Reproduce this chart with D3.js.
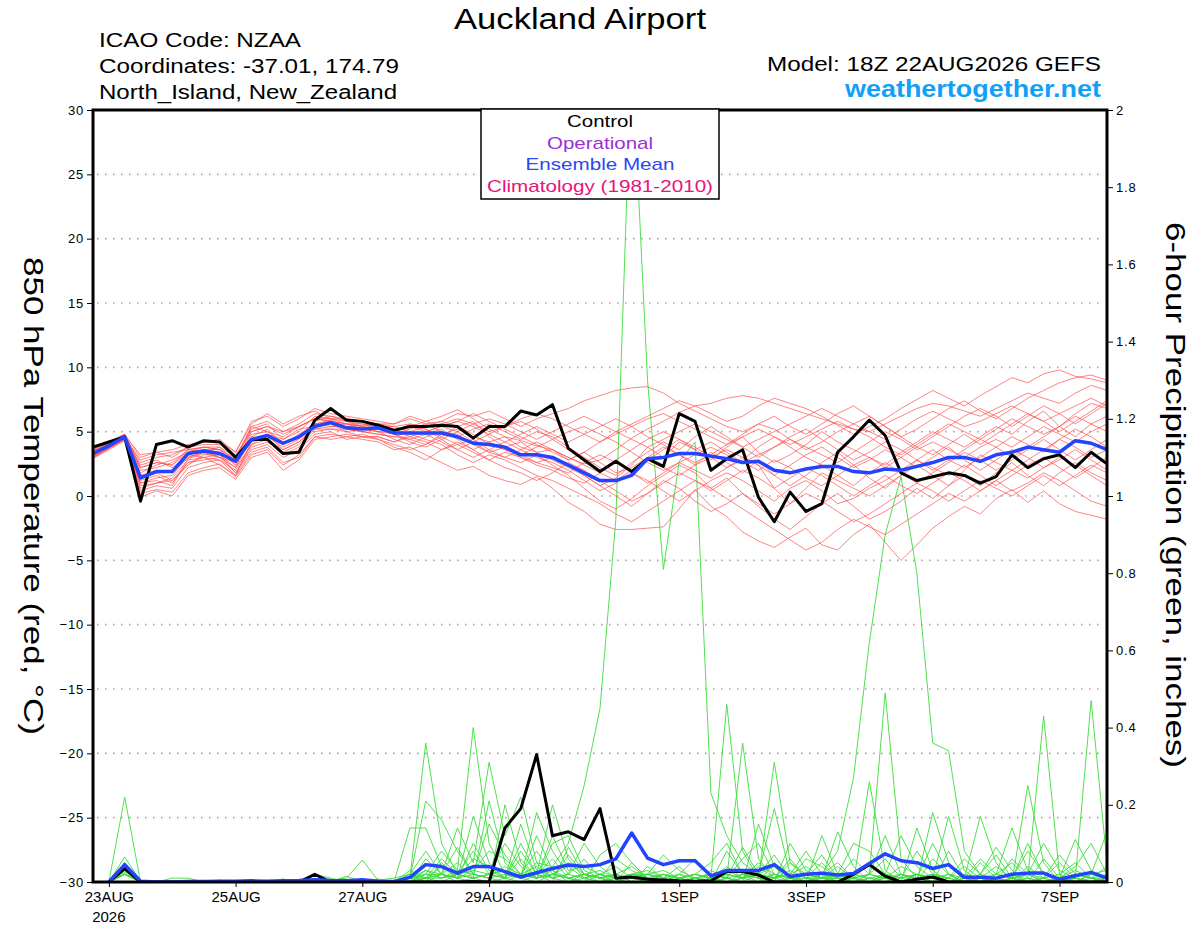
<!DOCTYPE html>
<html><head><meta charset="utf-8">
<script src="https://cdn.jsdelivr.net/npm/d3@7"></script>
<style>
body{margin:0;background:#fff;}
svg{display:block;font-family:"Liberation Sans",Arial,Helvetica,sans-serif;}
</style>
</head><body>
<svg id="chart" width="1200" height="927"></svg>
<script>
// ---------------- DATA ----------------
const stationTitle = "Auckland Airport";
const infoLines = ["ICAO Code: NZAA", "Coordinates: -37.01, 174.79", "North_Island, New_Zealand"];
const modelLine = "Model: 18Z 22AUG2026 GEFS";
const siteName = "weathertogether.net";
const legendItems = ["Control", "Operational", "Ensemble Mean", "Climatology (1981-2010)"];
const runStart = "2026-08-22T18:00:00Z";
const stepHours = 6;
const xTickDates = ["2026-08-23","2026-08-25","2026-08-27","2026-08-29","2026-09-01","2026-09-03","2026-09-05","2026-09-07"];
const xTickLabels = ["23AUG","25AUG","27AUG","29AUG","1SEP","3SEP","5SEP","7SEP"];
const firstTickYear = "2026";
const tempTicks = [-30,-25,-20,-15,-10,-5,0,5,10,15,20,25,30];
const precipTicks = [0,0.2,0.4,0.6,0.8,1,1.2,1.4,1.6,1.8,2];
const precipTickLabels = ["0","0.2","0.4","0.6","0.8","1","1.2","1.4","1.6","1.8","2"];
const leftTitle = "850 hPa Temperature (red, \u00B0C)";
const rightTitle = "6-hour Precipitation (green, inches)";

// 850 hPa temperature, every 6 h from 18Z 22AUG (65 values)
const controlTemp = [3.8,4.2,4.6,-0.4,4.0,4.3,3.8,4.3,4.2,3.0, 4.4,4.4,3.3,3.4,5.9,6.8,5.9,5.8,5.5,5.1, 5.4,5.4,5.5,5.4,4.5,5.4,5.4,6.6,6.3,7.1, 3.7,2.8,1.9,2.7,1.9,2.9,2.3,6.4,5.8,2.0, 2.9,3.6,-0.1,-2.0,0.3,-1.2,-0.6,3.4,4.6,5.9, 4.7,1.8,1.2,1.5,1.8,1.6,1.0,1.5,3.2,2.2, 2.9,3.2,2.2,3.4,2.5];
const meanTemp = [3.3,3.9,4.6,1.4,1.9,1.9,3.3,3.5,3.3,2.7, 4.4,4.7,4.1,4.6,5.4,5.7,5.3,5.2,5.3,4.9, 4.9,4.9,4.9,4.6,4.1,4.0,3.8,3.2,3.2,3.0, 2.4,1.8,1.2,1.2,1.6,2.9,3.0,3.3,3.3,3.1, 2.9,2.6,2.7,2.0,1.8,2.1,2.3,2.3,1.9,1.8, 2.1,2.0,2.3,2.6,3.0,3.0,2.7,3.2,3.4,3.8, 3.6,3.4,4.3,4.1,3.6];
const memberTemps = [
 [3.1,3.8,4.5,1.0,1.2,0.8,2.9,3.3,3.0,2.2, 4.6,5.2,4.0,4.8,5.6,5.9,5.4,5.5,5.6,5.2, 5.4,5.8,6.2,6.7,6.0,5.2,4.6,4.3,3.9,3.6, 3.0,2.5,2.8,3.6,4.5,5.2,5.8,6.5,7.0,6.4, 5.8,6.2,7.0,7.6,7.2,6.8,6.2,5.5,4.8,5.4, 6.0,6.8,7.5,8.2,7.6,7.0,7.8,8.5,9.2,8.8, 9.5,9.8,9.3,9.1,8.8],
 [3.0,3.7,4.4,0.2,0.5,0.3,1.8,2.2,2.5,1.5, 3.2,3.6,2.4,3.2,4.6,4.8,4.6,4.4,4.2,3.6, 3.8,3.2,2.6,2.0,2.3,1.6,1.2,0.9,1.5,0.6, -0.5,-1.2,-2.2,-2.6,-2.6,-2.5,-2.4,-1.0,0.5,-0.8, -1.6,-2.8,-3.5,-4.0,-3.2,-2.5,-3.8,-4.2,-3.0,-2.2, -3.6,-5.0,-3.8,-2.5,-1.6,-0.8,-1.4,-0.2,0.5,-0.5, 0.4,-0.6,-1.2,-1.5,-1.8],
 [3.4,4.0,4.7,2.2,2.6,2.4,3.6,3.8,3.6,2.9, 5.2,5.6,4.4,5.0,6.2,6.0,5.8,5.6,5.4,5.0, 5.6,5.2,4.6,5.4,5.8,4.6,3.8,4.2,3.4,2.8, 2.2,1.6,0.8,1.4,2.4,3.8,3.0,4.2,3.6,2.8, 3.8,4.6,3.4,2.6,3.2,4.0,5.0,4.2,3.6,3.0, 2.4,3.4,4.2,5.0,4.4,3.8,4.6,5.4,4.8,5.8, 6.6,5.4,6.4,7.2,6.8],
 [3.2,3.9,4.6,1.6,2.0,1.8,3.0,3.4,3.8,2.6, 4.2,4.8,3.6,4.2,5.4,5.6,5.0,5.2,5.4,5.4, 5.0,4.8,5.2,4.4,3.6,4.2,4.6,3.8,3.4,3.6, 2.8,3.4,2.6,1.8,2.2,3.0,3.8,3.2,2.4,3.4, 2.6,1.8,2.8,1.6,0.8,1.6,2.6,3.4,2.4,1.4, 0.6,1.6,2.8,3.6,2.8,2.2,3.0,3.8,4.6,4.0, 3.4,4.4,5.2,4.6,3.8],
 [2.9,3.6,4.3,-0.1,0.4,0.0,1.6,2.0,2.2,1.3, 3.0,3.4,2.0,2.8,4.4,4.6,4.8,4.6,4.6,4.2, 4.6,4.2,3.6,4.0,4.4,3.6,3.0,2.6,3.2,2.4, 1.6,0.6,-0.4,-1.0,-0.2,0.8,1.6,2.4,1.8,0.6, 1.4,0.2,-0.8,-1.8,-2.6,-1.6,-0.6,0.2,-0.8,-1.8, -1.2,-0.4,0.6,-0.2,0.8,1.6,0.8,1.8,2.6,1.6, 0.8,1.8,2.6,1.8,1.2],
 [3.6,4.2,4.8,3.0,3.4,3.6,4.0,4.2,4.4,3.4, 5.8,6.2,5.4,6.0,6.8,6.4,6.2,6.0,5.8,5.6, 6.0,5.6,5.8,6.4,6.2,6.6,6.0,5.4,6.0,6.4, 6.8,7.4,7.8,8.2,8.4,8.5,8.0,7.2,6.6,6.0, 5.4,5.0,5.6,5.2,4.4,3.6,4.2,5.0,5.6,6.2, 5.4,4.6,5.2,6.0,6.8,7.4,6.6,6.0,6.8,7.6, 8.2,8.8,9.2,9.4,9.0],
 [3.3,3.9,4.5,0.8,1.0,1.4,2.8,3.0,2.8,2.0, 4.0,4.4,3.2,3.8,5.0,5.2,5.2,5.0,4.8,4.6, 4.4,4.0,4.8,5.2,4.6,4.2,3.6,3.0,2.4,2.0, 1.4,1.0,1.8,2.6,2.0,2.8,3.6,4.4,3.8,3.0, 2.2,2.8,3.8,4.6,3.8,3.0,2.4,1.6,0.8,1.8, 2.6,1.8,1.0,1.8,2.6,3.4,2.8,2.0,2.8,3.6, 4.4,3.6,2.8,3.6,4.4],
 [3.5,4.1,4.7,2.6,3.0,3.2,3.8,4.0,4.0,3.2, 5.0,5.4,4.8,5.4,6.0,5.8,5.6,5.6,5.2,4.8, 5.2,5.6,5.0,4.6,5.2,5.6,5.0,4.4,5.0,4.6, 3.8,3.0,2.2,1.6,2.6,3.4,4.2,3.6,4.6,5.4, 4.6,3.8,3.0,3.8,4.6,5.2,4.4,3.6,2.8,3.4, 4.2,3.6,2.8,2.0,2.8,3.6,4.4,3.8,3.0,3.8, 4.6,5.4,4.6,5.6,6.2],
 [3.0,3.7,4.4,1.2,1.6,1.0,2.6,2.8,3.0,1.8, 3.6,4.0,3.0,3.6,4.8,5.0,4.4,4.6,4.6,4.2, 4.8,4.4,4.0,3.2,2.6,3.2,2.8,2.2,1.6,1.2, 0.6,0.0,-0.6,-1.4,-2.0,-1.2,-0.4,0.4,1.2,0.6, -0.2,-1.0,-1.8,-2.6,-3.4,-4.2,-3.6,-2.6,-1.8,-2.4, -3.0,-2.2,-1.4,-0.6,0.2,-0.4,0.4,1.2,0.4,1.0, 1.8,1.2,0.4,-0.4,-0.8],
 [3.3,4.0,4.6,1.8,2.4,2.8,3.4,3.6,3.4,2.8, 4.8,5.0,4.2,4.6,5.8,6.2,5.8,5.4,5.6,5.2, 4.6,5.0,5.4,5.8,5.4,4.8,4.2,4.8,5.4,4.8, 4.2,4.8,5.4,6.0,5.4,4.6,4.0,3.2,2.6,3.2, 4.0,4.8,5.6,6.2,5.4,4.8,5.6,6.4,7.0,6.2, 5.4,4.6,3.8,4.6,5.4,6.2,6.8,6.2,5.4,6.2, 7.0,6.4,5.6,6.4,7.2],
 [3.1,3.8,4.5,0.4,0.8,0.6,2.2,2.6,2.8,1.6, 3.4,3.8,2.6,3.0,4.6,4.4,4.6,4.8,4.4,3.8, 3.4,2.8,3.6,4.2,3.6,2.8,2.2,1.8,1.2,1.8, 2.6,2.0,1.2,0.4,-0.4,0.2,1.0,1.8,1.2,0.4, 1.2,2.0,1.4,0.6,1.4,2.2,1.6,0.8,0.0,0.8, 1.6,0.8,0.2,1.0,1.8,1.2,0.4,1.2,2.0,1.4, 2.2,3.0,2.4,1.6,0.8],
 [3.4,4.0,4.6,2.4,2.8,2.2,3.2,3.6,3.6,2.4, 4.4,4.6,3.8,4.4,5.6,5.4,5.4,5.2,5.0,5.0, 5.4,5.2,4.4,3.6,4.2,4.8,5.4,5.8,5.2,4.4, 3.6,2.8,2.0,2.8,3.6,4.4,5.0,4.4,3.6,4.2, 3.4,2.6,2.0,2.8,2.2,1.4,0.8,1.6,2.4,3.0, 2.2,3.0,3.8,3.2,4.0,4.8,4.0,4.8,5.6,6.4, 5.8,5.0,5.8,6.6,7.4],
 [3.2,3.8,4.4,1.4,1.8,1.2,2.4,3.2,3.2,2.2, 4.0,4.8,4.4,5.2,5.4,5.6,5.2,5.0,5.2,4.8, 4.2,3.8,4.4,5.0,4.2,3.4,3.8,3.2,2.6,2.2, 1.8,2.6,3.2,2.6,1.8,1.0,1.8,2.6,2.0,1.4, 2.2,3.0,2.4,1.6,2.4,3.2,3.8,3.0,2.2,2.8, 3.6,3.0,2.2,3.0,3.8,2.8,2.0,2.8,3.6,3.0, 2.2,2.8,3.6,2.8,2.0],
 [3.5,4.1,4.8,2.0,2.2,2.6,3.6,3.8,3.8,3.0, 5.4,5.8,5.0,5.6,6.4,6.2,6.0,5.8,5.6,5.4, 5.6,5.4,5.6,6.0,5.6,5.0,5.4,6.0,6.4,6.0, 5.4,4.8,4.2,5.0,5.6,6.2,6.8,7.4,7.0,7.2, 7.6,7.8,7.6,7.2,6.8,6.4,6.0,5.6,5.2,5.0, 5.6,6.2,6.8,7.2,7.0,6.6,6.2,6.8,7.4,8.0, 7.6,7.2,8.0,8.6,8.2],
 [3.0,3.7,4.4,0.6,1.0,1.2,2.6,3.0,3.2,1.8, 3.8,4.2,3.4,4.0,5.2,5.2,5.0,4.6,4.4,4.0, 3.6,4.0,4.6,4.0,3.4,2.8,3.4,3.0,2.6,3.0, 2.4,1.6,0.8,0.0,-0.8,0.2,1.2,0.6,-0.4,-1.2, -0.6,0.2,-0.6,-1.4,-0.6,0.2,-0.4,-1.2,-2.0,-1.4, -0.6,0.2,1.0,0.4,-0.4,0.4,1.2,0.6,0.0,0.8, 1.6,0.8,1.6,2.4,1.8],
 [3.4,4.1,4.7,3.2,3.4,3.0,3.8,4.2,4.2,3.4, 5.6,6.4,5.6,6.2,6.6,6.0,6.0,5.8,5.6,5.6, 6.2,5.8,5.4,5.0,5.6,6.0,5.6,5.0,4.4,5.0, 5.6,6.2,5.6,5.0,4.4,3.8,4.4,5.0,5.6,5.0, 4.4,3.8,4.4,5.0,5.6,6.2,6.8,6.2,5.6,5.0, 4.4,5.2,6.0,6.6,6.0,5.4,5.8,6.4,7.0,6.4, 5.8,6.4,7.0,7.6,7.0],
 [3.2,3.9,4.6,1.0,1.4,1.6,3.0,3.4,3.4,2.4, 4.6,4.4,3.6,4.2,5.2,5.4,5.6,5.4,5.0,4.4, 4.0,4.6,5.0,4.8,4.0,3.4,3.0,3.6,4.2,3.6, 3.0,2.4,1.8,1.2,2.0,2.8,2.2,1.6,2.4,3.0, 3.6,3.0,2.4,0.6,-0.6,0.6,1.8,1.2,0.6,0.0, 0.8,1.6,2.4,1.6,0.8,2.0,3.2,2.6,2.0,2.8, 3.6,4.4,3.8,3.0,3.6],
 [3.3,3.9,4.5,2.8,3.2,3.4,3.6,3.4,3.0,2.6, 5.0,5.4,5.0,5.4,6.0,5.8,5.2,5.0,4.8,4.6, 5.0,5.4,5.8,5.4,4.8,4.0,3.6,3.2,3.8,4.4, 5.0,5.4,4.8,4.2,3.4,2.6,2.0,2.6,3.2,3.8, 3.2,2.6,3.2,3.8,4.4,3.8,3.2,2.6,3.4,4.2, 5.0,4.4,3.6,4.2,3.6,3.0,3.8,4.4,3.8,4.6, 5.4,4.8,4.2,5.0,5.6],
 [3.1,3.8,4.5,1.6,1.8,2.0,3.2,3.0,2.4,1.6, 4.2,4.6,4.0,4.6,5.6,5.8,5.6,5.2,5.0,4.8, 4.4,4.8,4.2,3.6,3.0,3.6,4.2,3.6,3.0,2.6, 2.0,1.2,0.4,1.0,1.8,1.2,0.4,-0.4,0.4,1.2, 1.8,1.2,0.4,-0.4,0.6,1.2,0.4,-0.6,-0.2,0.6, 1.2,2.0,2.8,2.2,1.6,2.4,1.6,0.8,1.6,2.4, 3.0,2.2,1.4,2.2,3.0],
 [3.6,4.2,4.8,2.2,2.6,2.4,3.4,3.8,3.6,2.8, 5.4,5.0,4.6,5.4,6.0,6.0,5.6,5.4,5.2,5.0, 5.4,5.0,5.4,5.8,6.4,5.8,5.2,4.6,4.0,3.4, 2.8,3.4,4.2,4.8,5.4,6.0,6.4,5.8,5.2,4.6, 4.0,4.6,5.2,4.6,4.0,4.6,5.2,5.8,5.2,4.6, 3.8,3.2,4.0,4.8,5.6,5.0,4.4,5.2,6.0,5.4, 4.8,5.4,6.2,5.6,5.0]
];

// 6-hour precipitation (inches); first slot (analysis time) has no value
const controlPrecip = [null,0,0.035,0,0,0,0,0,0,0, 0,0,0,0,0.02,0,0,0,0,0, 0,0,0,0,0.001,0,0.14,0.19,0.33,0.12, 0.13,0.11,0.19,0.01,0.013,0.007,0.005,0.003,0.002,0.003, 0.027,0.027,0.018,0,0,0,0,0,0.02,0.045, 0.015,0,0.007,0.013,0,0,0,0,0,0, 0,0,0,0,0];
const meanPrecip = [null,0,0.045,0.002,0,0,0.001,0.001,0.002,0.002, 0.003,0.002,0.003,0.004,0.006,0.004,0.003,0.006,0.002,0.001, 0.012,0.045,0.04,0.023,0.04,0.04,0.027,0.013,0.024,0.035, 0.044,0.04,0.045,0.06,0.127,0.062,0.045,0.055,0.055,0.016, 0.03,0.03,0.03,0.045,0.014,0.02,0.023,0.018,0.022,0.048, 0.073,0.055,0.05,0.035,0.045,0.012,0.012,0.01,0.02,0.023, 0.023,0.007,0.016,0.025,0.01];
const memberPrecip = [
 [null,0,0.22,0,0,0,0.003,0,0,0, 0,0,0,0,0.004,0,0,0,0,0, 0.02,0,0.05,0.01,0,0,0.01,0.08,0.02,0.2, 0.06,0.01,0,0.02,0,0,0.02,0.01,0,0, 0.01,0,0.02,0.04,0.01,0,0,0.01,0,0, 0.02,0.01,0,0.18,0.05,0,0,0.01,0,0, 0,0.01,0,0,0],
 [null,0,0.065,0.002,0,0,0,0,0,0, 0,0,0,0,0,0.005,0.01,0.057,0.004,0, 0.01,0.21,0.16,0.08,0.02,0.01,0,0.02,0.04,0.01, 0,0.02,0.01,0,0.05,0.01,0,0,0.01,0.02, 0.01,0.36,0.06,0.01,0,0.02,0.01,0.13,0.04,0, 0.01,0,0.02,0.01,0,0,0.01,0.02,0.14,0.03, 0,0,0.01,0,0],
 [null,0,0.05,0,0,0,0,0,0,0, 0,0,0,0.003,0,0,0,0,0,0.004, 0.01,0.36,0.1,0.02,0.01,0.21,0.05,0.01,0,0.02, 0.01,0,0.02,0.04,0.01,0,0,0.01,0,0.01, 0.46,0.08,0.01,0,0.01,0,0.12,0.02,0,0, 0,0.01,0.02,0,0,0.01,0.17,0.05,0,0.01, 0,0,0.01,0.47,0.05],
 [null,0,0.04,0,0,0,0,0,0.002,0, 0,0,0,0,0,0,0,0.005,0,0, 0.14,0.14,0.04,0.01,0.17,0.05,0.01,0,0.02,0, 0.09,0.02,0,0.01,0.02,0.01,0,0,0,0.01, 0,0.02,0.01,0.31,0.05,0.01,0,0,0.01,0, 0.02,0,0.14,0.03,0,0,0,0.01,0,0.01, 0.43,0.02,0,0,0.01],
 [null,0,0.03,0,0,0.01,0.01,0,0,0, 0,0.004,0,0,0,0,0,0,0,0, 0,0.02,0.01,0.03,0.40,0.1,0.02,0.01,0.12,0.03, 0,0.01,0.02,0,0.01,0.02,0.01,0.04,0,0, 0.01,0,0.15,0.04,0,0,0.01,0,0,0.02, 0.49,0.06,0.01,0,0.02,0,0,0,0.01,0, 0,0.01,0.11,0.03,0],
 [null,0,0.035,0,0,0,0,0,0,0, 0.006,0,0,0,0,0,0,0,0,0.003, 0.01,0.03,0.02,0.14,0.05,0.31,0.12,0.22,0.05,0.01, 0.02,0.01,0,0.01,0.02,0.01,0,0.02,0.06,0.01, 0,0.01,0.02,0.19,0.02,0,0.01,0.01,0,0.26, 0.03,0,0.01,0.02,0,0,0.01,0,0,0.25, 0.05,0,0,0.01,0.02],
 [null,0,0.02,0,0,0,0,0,0,0, 0,0,0,0,0.02,0.01,0,0,0,0, 0,0.01,0.06,0.02,0.01,0,0.2,0.05,0.01,0.02, 0.01,0,0.07,0.1,0.05,0.01,0.02,0,0.01,0.02, 0.01,0,0,0.02,0.01,0.06,0.04,0.01,0,0.02, 0.01,0,0.02,0.01,0.17,0.03,0,0.01,0.02,0, 0.01,0,0,0.02,0.13],
 [null,0,0.025,0,0,0,0,0,0,0, 0,0,0,0,0,0,0,0,0.005,0.01, 0.02,0.08,0.02,0.05,0.01,0.02,0.03,0.01,0.18,0.08, 0.02,0.06,0.01,0.02,0,0.04,0.01,0,0.01,0, 0.08,0.02,0.01,0,0.1,0.03,0.01,0,0.01,0, 0,0.02,0.01,0,0.01,0,0.02,0.09,0.03,0, 0.01,0.05,0.01,0,0],
 [null,0,0.03,0,0,0,0,0,0,0, 0,0,0,0,0,0,0.015,0,0,0, 0.01,0.01,0,0.02,0.03,0.08,0.06,0.02,0.01,0.1, 0.12,0.03,0.01,0,0.02,0.03,0.01,0,0,0.02, 0.01,0.06,0.1,0.02,0.01,0,0.02,0.05,0.01,0, 0.01,0.02,0,0.06,0.02,0,0.05,0.01,0,0.02, 0,0.01,0.04,0.1,0.02],
 [null,0,0.02,0,0,0,0,0,0,0, 0,0,0,0,0,0,0,0,0.008,0, 0.02,0.01,0.04,0.01,0.1,0.03,0.01,0.15,0.03,0.01, 0.02,0.1,0.04,0.01,0.01,0,0.02,0.01,0.02,0.05, 0.1,0.02,0.01,0.02,0,0.01,0.01,0.02,0.1,0.08, 0.02,0,0.01,0,0.01,0.06,0.02,0,0.01,0.08, 0.02,0,0.01,0,0.01],
 [null,0,0.03,0,0,0,0,0,0,0, 0,0,0.008,0,0,0,0,0,0,0, 0,0.06,0.02,0.01,0.02,0.15,0.07,0.02,0.01,0.02, 0.05,0.02,0.01,0.02,0.01,0.02,0.07,0.03,0.01,0, 0.01,0.02,0,0.01,0.05,0.02,0.07,0.01,0,0.01, 0.02,0.12,0.04,0.01,0,0.01,0,0.02,0.05,0.01, 0,0.01,0.03,0.01,0],
 [null,0,0.02,0,0,0,0,0,0.005,0, 0,0,0,0,0,0.003,0,0,0,0, 0.03,0.01,0.02,0.09,0.02,0.01,0.02,0.01,0.02,0.06, 0.01,0.02,0.01,0.06,0.03,0.01,0,0.01,0.02,0.01, 0,0.01,0.04,0.01,0.02,0.08,0.02,0,0.01,0.02, 0.12,0.02,0.01,0.1,0.02,0,0.01,0.04,0.01,0, 0.01,0.07,0.02,0.01,0.04],
 [null,0,0.04,0,0,0,0,0,0,0, 0,0,0,0,0,0,0,0,0,0, 0.01,0.02,0.02,0.01,0.03,0.02,0.1,0.04,0.01,0.02, 0.04,0.01,0.02,0.01,0.02,0.02,0.01,0.02,0,0.01, 0.02,0.01,0.02,0.07,0.01,0.02,0.01,0.04,0.01,0.02, 0.06,0.01,0.02,0,0.08,0.01,0,0.02,0.01,0, 0.06,0.01,0,0.02,0.01],
 [null,0,0.03,0,0,0,0,0,0,0, 0,0,0,0,0,0,0,0,0,0, 0,0.01,0.01,0.02,0.01,0.02,0.03,0.01,0.05,0.04, 0.1,0.25,0.45,0.94,2.15,1.3,0.81,1.09,1.14,0.23, 0.12,0.05,0.02,0.01,0.03,0.01,0.02,0.01,0,0.01, 0.01,0,0.02,0.01,0,0.02,0.01,0,0.01,0.02, 0,0.01,0.02,0.01,0],
 [null,0,0.02,0,0,0,0,0,0,0, 0,0,0,0,0,0,0,0,0,0, 0,0.01,0.02,0,0.01,0.02,0.01,0.06,0.01,0.03, 0.01,0.02,0.01,0,0.01,0.02,0,0.01,0.02,0.01, 0.03,0.01,0,0.05,0.01,0,0.02,0.08,0.27,0.62, 0.9,1.05,0.8,0.36,0.34,0.08,0.02,0.01,0,0.04, 0.01,0,0.02,0.01,0],
 [null,0,0.02,0,0,0,0,0,0,0, 0,0,0,0,0,0,0,0,0,0, 0.01,0,0.02,0.01,0.06,0.04,0.01,0.02,0.08,0.02, 0.01,0.02,0.03,0.01,0.02,0.01,0.02,0.01,0,0.03, 0.01,0.09,0.02,0.01,0.06,0.01,0,0.02,0.01,0.05, 0.02,0.01,0.08,0.02,0.01,0,0.02,0.07,0.01,0.02, 0.1,0.03,0.01,0,0.02],
 [null,0,0.035,0,0,0,0,0,0,0, 0,0,0,0,0,0,0,0,0,0, 0,0.03,0.01,0.02,0.08,0.02,0.01,0.1,0.02,0.01, 0.07,0.02,0.01,0.02,0.04,0.01,0,0.02,0.01,0, 0.02,0.01,0.05,0.02,0.01,0.01,0.05,0.01,0.02,0.01, 0,0.02,0.01,0.02,0.01,0.04,0.01,0,0.06,0.02, 0.01,0.02,0.05,0.01,0.01],
 [null,0,0.03,0,0,0,0,0,0,0, 0,0,0,0,0,0,0,0,0,0.002, 0.01,0.02,0.08,0.03,0.02,0.01,0.04,0.02,0.01,0.12, 0.03,0.04,0.02,0.01,0.01,0.02,0.03,0.01,0.02,0.01, 0.04,0.01,0.02,0.01,0.02,0.04,0.01,0.01,0.06,0.02, 0.01,0.04,0.02,0.01,0.02,0.01,0.06,0.02,0.01,0.1, 0.02,0.01,0,0.02,0.03]
];

// ---------------- DRAWING ----------------
const W = 1200, H = 927;
const plot = {left: 93, right: 1107, top: 110, bottom: 882};
const font = '"Liberation Sans", Arial, Helvetica, sans-serif';
const svg = d3.select("#chart");

const t0 = Date.parse(runStart);
const timeAt = i => new Date(t0 + i * stepHours * 3600e3);
const nSteps = controlTemp.length;

const x = d3.scaleUtc().domain([timeAt(0), timeAt(nSteps - 1)]).range([plot.left, plot.right]);
const yT = d3.scaleLinear().domain([-30, 30]).range([plot.bottom, plot.top]);
const yP = d3.scaleLinear().domain([0, 2]).range([plot.bottom, plot.top]);

svg.append("rect").attr("width", W).attr("height", H).attr("fill", "#fff");

svg.append("defs").append("clipPath").attr("id", "plotclip")
  .append("rect").attr("x", plot.left).attr("y", plot.top)
  .attr("width", plot.right - plot.left).attr("height", plot.bottom - plot.top);

// dotted gridlines at temperature ticks
svg.append("g").selectAll("line")
  .data(tempTicks.filter(v => v > -30 && v < 30))
  .join("line")
  .attr("x1", plot.left + 4).attr("x2", plot.right - 2)
  .attr("y1", d => yT(d)).attr("y2", d => yT(d))
  .attr("stroke", "#a8a8a8").attr("stroke-width", 1.6)
  .attr("stroke-dasharray", "1.6,6.4");

const lineT = d3.line().x((d, i) => x(timeAt(i))).y(d => yT(d));
const lineP = d3.line().defined(d => d != null).x((d, i) => x(timeAt(i))).y(d => yP(d));

const data = svg.append("g").attr("clip-path", "url(#plotclip)");

data.append("g").selectAll("path").data(memberPrecip).join("path")
  .attr("d", lineP).attr("fill", "none")
  .attr("stroke", "#3cdc3c").attr("stroke-width", 0.9).attr("stroke-linejoin", "miter");

data.append("g").selectAll("path").data(memberTemps).join("path")
  .attr("d", lineT).attr("fill", "none")
  .attr("stroke", "#ff4848").attr("stroke-opacity", 0.85).attr("stroke-width", 0.8);

data.append("path").datum(controlPrecip).attr("d", lineP).attr("fill", "none")
  .attr("stroke", "#000").attr("stroke-width", 3).attr("stroke-linejoin", "round");
data.append("path").datum(meanPrecip).attr("d", lineP).attr("fill", "none")
  .attr("stroke", "#2244ff").attr("stroke-width", 3.5).attr("stroke-linejoin", "round");
data.append("path").datum(controlTemp).attr("d", lineT).attr("fill", "none")
  .attr("stroke", "#000").attr("stroke-width", 3).attr("stroke-linejoin", "round");
data.append("path").datum(meanTemp).attr("d", lineT).attr("fill", "none")
  .attr("stroke", "#2244ff").attr("stroke-width", 3.5).attr("stroke-linejoin", "round");

// axes
const axL = svg.append("g").attr("transform", `translate(${plot.left},0)`)
  .call(d3.axisLeft(yT).tickValues(tempTicks).tickSize(6).tickPadding(3));
const axR = svg.append("g").attr("transform", `translate(${plot.right},0)`)
  .call(d3.axisRight(yP).tickValues(precipTicks).tickSize(6).tickPadding(3)
        .tickFormat((d, i) => precipTickLabels[i]));
const axB = svg.append("g").attr("transform", `translate(0,${plot.bottom})`)
  .call(d3.axisBottom(x).tickValues(xTickDates.map(s => new Date(s + "T00:00:00Z")))
        .tickSize(5).tickPadding(4).tickFormat((d, i) => xTickLabels[i]));
[axL, axR, axB].forEach(a => {
  a.select(".domain").remove();
  a.selectAll("line").attr("stroke", "#000").attr("stroke-width", 1);
  a.selectAll("text").attr("font-family", font).attr("fill", "#000");
});
axL.selectAll("text").attr("font-size", 13).attr("letter-spacing", 0.8);
axR.selectAll("text").attr("font-size", 13).attr("letter-spacing", 0.8);
axB.selectAll("text").attr("font-size", 15);
axB.append("text").attr("x", x(new Date(xTickDates[0] + "T00:00:00Z"))).attr("y", 40)
  .attr("text-anchor", "middle").attr("font-family", font).attr("font-size", 15)
  .attr("fill", "#000").text(firstTickYear);

// frame
svg.append("rect").attr("x", plot.left).attr("y", plot.top)
  .attr("width", plot.right - plot.left).attr("height", plot.bottom - plot.top)
  .attr("fill", "none").attr("stroke", "#000").attr("stroke-width", 3);

// text helper with width fitting
function label(str, o) {
  const t = svg.append("text")
    .attr("x", o.x).attr("y", o.y)
    .attr("font-family", font).attr("font-size", o.size)
    .attr("font-weight", o.weight || "normal")
    .attr("fill", o.fill || "#000")
    .attr("text-anchor", o.anchor || "start")
    .text(str);
  if (o.width) t.attr("textLength", o.width).attr("lengthAdjust", "spacingAndGlyphs");
  if (o.rotate) t.attr("transform", `rotate(${o.rotate},${o.x},${o.y})`);
  return t;
}

label(stationTitle, {x: 580, y: 29, size: 30, anchor: "middle", width: 252});
label(infoLines[0], {x: 99, y: 47, size: 20, width: 202});
label(infoLines[1], {x: 99, y: 73, size: 20, width: 300});
label(infoLines[2], {x: 99, y: 99, size: 20, width: 298});
label(modelLine, {x: 1101, y: 71, size: 20, anchor: "end", width: 334});
label(siteName, {x: 1101, y: 97, size: 23, anchor: "end", weight: "bold", fill: "#12a0f5", width: 256});

// legend box
svg.append("rect").attr("x", 481).attr("y", 109).attr("width", 238).attr("height", 90)
  .attr("fill", "#fff").attr("stroke", "#000").attr("stroke-width", 1.5);
const legendColors = ["#000000", "#9b2fd6", "#2a48f2", "#ea127c"];
const legendWidths = [66, 106, 149, 226];
legendItems.forEach((s, i) => {
  label(s, {x: 600, y: 127 + i * 21.6, size: 17, anchor: "middle", fill: legendColors[i], width: legendWidths[i]});
});

// axis titles (rotated, reading downward)
label(leftTitle, {x: 24, y: 496, size: 28, anchor: "middle", width: 478, rotate: 90});
label(rightTitle, {x: 1166, y: 495, size: 28, anchor: "middle", width: 546, rotate: 90});
</script>
</body></html>
